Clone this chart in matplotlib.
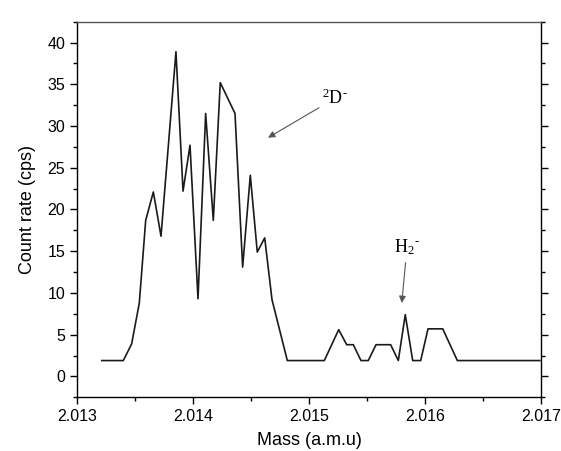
import matplotlib
matplotlib.use("Agg")
import matplotlib.pyplot as plt
from matplotlib.ticker import MultipleLocator, FormatStrFormatter

mass = [2.013213, 2.013399, 2.013471, 2.013537, 2.013592, 2.013658, 2.013724,
        2.013853, 2.013914, 2.013974, 2.014043, 2.014109, 2.014175, 2.014235,
        2.014362, 2.014428, 2.014494, 2.014554, 2.014618, 2.014681, 2.014813,
        2.015132, 2.015256, 2.015325, 2.015382, 2.015448, 2.015511, 2.015578,
        2.015704, 2.015770, 2.015830, 2.015894, 2.015963, 2.016026, 2.016153,
        2.016279, 2.016990]
count = [1.9, 1.9, 3.9, 8.8, 18.7, 22.1, 16.8,
         38.9, 22.2, 27.7, 9.3, 31.5, 18.7, 35.2,
         31.5, 13.1, 24.1, 14.9, 16.6, 9.2, 1.9,
         1.9, 5.6, 3.8, 3.8, 1.9, 1.9, 3.8,
         3.8, 1.9, 7.4, 1.9, 1.9, 5.7, 5.7,
         1.9, 1.9]

xticks = [2.013, 2.014, 2.015, 2.016, 2.017]
yticks = [0, 5, 10, 15, 20, 25, 30, 35, 40]

plt.rcParams['font.family'] = ['Liberation Sans', 'DejaVu Sans']

fig = plt.figure(figsize=(5.61, 4.51), dpi=100)
ax = fig.add_axes([0.1373, 0.1191, 0.827, 0.8328])

ax.plot(mass, count, color='#1a1a1a', lw=1.2)

ax.set_xlim(2.013, 2.017)
ax.set_ylim(-2.5, 42.5)
ax.set_xticks(xticks)
ax.set_yticks(yticks)
ax.xaxis.set_major_formatter(FormatStrFormatter('%.3f'))
ax.xaxis.set_minor_locator(MultipleLocator(0.0005))
ax.yaxis.set_minor_locator(MultipleLocator(2.5))
ax.tick_params(axis='both', which='major', direction='out', length=5, width=1,
               labelsize=11.5, right=True, top=False)
ax.tick_params(axis='both', which='minor', direction='out', length=3, width=1,
               right=True, top=False)
ax.tick_params(axis='y', which='both', labelright=False)
for s in ax.spines.values():
    s.set_linewidth(1.0)
ax.spines['top'].set_color('#555555')

ax.set_xlabel('Mass (a.m.u)', fontsize=13, labelpad=6)
ax.set_ylabel('Count rate (cps)', fontsize=13, labelpad=8)

ax.annotate('$\\mathregular{^{2}D^{\u2010}}$', xy=(2.014647, 28.6), xytext=(2.015110, 33.3),
            fontsize=13, family='Liberation Serif', ha='left', va='center',
            arrowprops=dict(arrowstyle='-|>', color='#555555', lw=0.8,
                            shrinkA=0, shrinkB=0, mutation_scale=10))
ax.annotate('$\\mathregular{H_{2}{}^{\u2010}}$', xy=(2.015800, 8.8), xytext=(2.015845, 14.3),
            fontsize=13, family='Liberation Serif', ha='center', va='bottom',
            arrowprops=dict(arrowstyle='-|>', color='#555555', lw=0.8,
                            shrinkA=2, shrinkB=0, mutation_scale=10))

fig.savefig('out.png', dpi=100)
